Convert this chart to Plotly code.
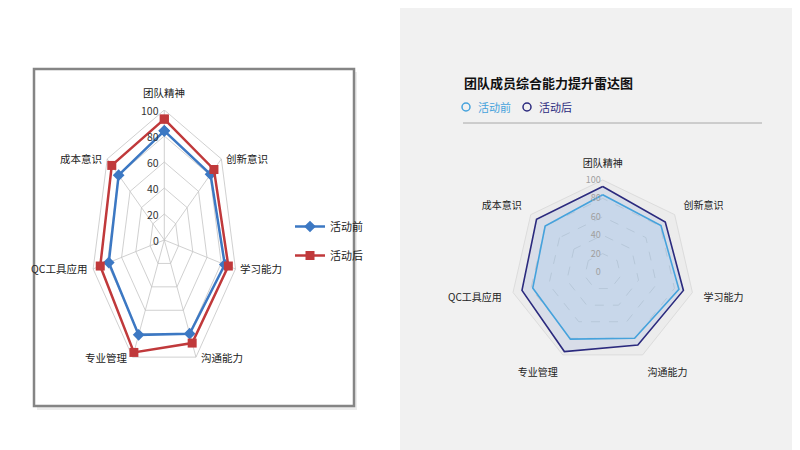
import math

import plotly.graph_objects as go

# data
categories = ["团队精神", "创新意识", "学习能力", "沟通能力", "专业管理", "QC工具应用", "成本意识"]
before = [84, 81, 85, 80, 81, 78, 80]
after = [93, 87, 90, 88, 96, 90, 92]
ticks = [0, 20, 40, 60, 80, 100]
series_names = ["活动前", "活动后"]

FONT = "Noto Sans CJK SC"
EXCEL_BLUE = "#3c78c3"
EXCEL_RED = "#c0393b"
NEW_BLUE = "#45a2dc"
NEW_NAVY = "#2b2a7e"

W, H = 800, 450
PAGE_OFF = 8  # the page puts the figure 8px in from the corner


def px(x):
    return (x - PAGE_OFF) / W


def py(y):
    return 1 - (y - PAGE_OFF) / H


n = len(categories)
angles = [2 * math.pi * i / n for i in range(n)]


def to_xy(values):
    # radar projection for the old excel chart (closed polygon)
    xs = [v * math.sin(a) for v, a in zip(values, angles)]
    ys = [v * math.cos(a) for v, a in zip(values, angles)]
    return xs + xs[:1], ys + ys[:1]


fig = go.Figure()

# ---- left: old excel radar, drawn on plain x/y axes (picture is stretched) ----
for t in ticks[1:]:
    gx, gy = to_xy([t] * n)
    fig.add_trace(go.Scatter(x=gx, y=gy, mode="lines", line=dict(color="#c4c4c4", width=0.8),
                             hoverinfo="skip", showlegend=False, xaxis="x", yaxis="y"))
for a in angles:
    fig.add_trace(go.Scatter(x=[0, ticks[-1] * math.sin(a)], y=[0, ticks[-1] * math.cos(a)], mode="lines",
                             line=dict(color="#c4c4c4", width=0.8), hoverinfo="skip", showlegend=False,
                             xaxis="x", yaxis="y"))

bx, by = to_xy(before)
ax_, ay_ = to_xy(after)
fig.add_trace(go.Scatter(x=bx, y=by, name=series_names[0], mode="lines+markers", legend="legend",
                         legendgroup="b", line=dict(color=EXCEL_BLUE, width=2.5),
                         marker=dict(symbol="diamond", size=9, color=EXCEL_BLUE), cliponaxis=False))
fig.add_trace(go.Scatter(x=ax_, y=ay_, name=series_names[1], mode="lines+markers", legend="legend",
                         legendgroup="a", line=dict(color=EXCEL_RED, width=2.5),
                         marker=dict(symbol="square", size=9, color=EXCEL_RED), cliponaxis=False))

annotations = []
for t in ticks:
    annotations.append(dict(x=0, y=t, xref="x", yref="y", text=str(t), showarrow=False, xanchor="right",
                            xshift=-3, font=dict(family=FONT, size=10.5, color="#333")))
for cat, a in zip(categories, angles):
    s, c = math.sin(a), math.cos(a)
    if abs(s) < 0.2:
        xa, ya, ys_ = "center", "bottom", 8
    else:
        xa, ya, ys_ = ("left" if s > 0 else "right"), "middle", 0
    annotations.append(dict(x=100 * s, y=100 * c, xref="x", yref="y", text=cat, showarrow=False,
                            xanchor=xa, yanchor=ya, xshift=3 if s > 0.2 else (-3 if s < -0.2 else 0),
                            yshift=ys_, font=dict(family=FONT, size=10.5, color="#222")))

# ---- right: redesigned radar ----
rcat = categories + categories[:1]
fig.add_trace(go.Scatterpolar(r=after + after[:1], theta=rcat, subplot="polar", mode="lines", fill="toself",
                              fillcolor="rgba(180,195,225,0.35)", line=dict(color=NEW_NAVY, width=1.6),
                              showlegend=False, name=series_names[1]))
fig.add_trace(go.Scatterpolar(r=before + before[:1], theta=rcat, subplot="polar", mode="lines", fill="toself",
                              fillcolor="rgba(150,200,240,0.25)", line=dict(color=NEW_BLUE, width=1.6),
                              showlegend=False, name=series_names[0]))

annotations.append(dict(x=px(462), y=py(83), xref="paper", yref="paper", xanchor="left",
                        yanchor="middle", showarrow=False, text="<b>团队成员综合能力提升雷达图</b>",
                        font=dict(family=FONT, size=13, color="#111")))
legend_items = [(series_names[0], NEW_BLUE, 466), (series_names[1], NEW_NAVY, 527)]
shapes = [
    dict(type="rect", xref="paper", yref="paper", x0=px(400), x1=1, y0=0, y1=1, fillcolor="#f1f1f1",
         line=dict(width=0), layer="below"),
    dict(type="rect", xref="paper", yref="paper", x0=px(37), x1=px(357), y0=py(410), y1=py(72),
         fillcolor="#ececec", line=dict(width=0), layer="below"),
    dict(type="rect", xref="paper", yref="paper", x0=px(34), x1=px(354), y0=py(406), y1=py(69),
         fillcolor="white", line=dict(color="#858585", width=2.5), layer="below"),
    dict(type="line", xref="paper", yref="paper", x0=px(463), x1=px(762), y0=py(123), y1=py(123),
         line=dict(color="#a8a8a8", width=1)),
]
for name, col, lx in legend_items:
    shapes.append(dict(type="circle", xref="paper", yref="paper", x0=px(lx - 4), x1=px(lx + 4),
                       y0=py(111), y1=py(103), line=dict(color=col, width=1.5)))
    annotations.append(dict(x=px(lx + 10), y=py(107), xref="paper", yref="paper", xanchor="left",
                            yanchor="middle", showarrow=False, text=name,
                            font=dict(family=FONT, size=11, color=col)))

cx_l, cy_l, rx_l, ry_l = 164.3, 240, 73, 130
cx_r, cy_r, r_r = 602.7, 272, 92

fig.update_layout(
    width=W, height=H, margin=dict(l=0, r=0, t=0, b=0),
    paper_bgcolor="white", plot_bgcolor="rgba(0,0,0,0)",
    font=dict(family=FONT),
    xaxis=dict(domain=[px(cx_l - rx_l), px(cx_l + rx_l)], range=[-100, 100], visible=False, fixedrange=True),
    yaxis=dict(domain=[py(cy_l + ry_l), py(cy_l - ry_l)], range=[-100, 100], visible=False, fixedrange=True),
    legend=dict(x=px(290), y=py(212), xanchor="left", yanchor="top", bgcolor="rgba(0,0,0,0)",
                font=dict(family=FONT, size=11, color="#222"), tracegroupgap=10, itemwidth=30),
    polar=dict(
        domain=dict(x=[px(cx_r - r_r), px(cx_r + r_r)], y=[py(cy_r + r_r), py(cy_r - r_r)]),
        gridshape="linear", bgcolor="#ececec",
        radialaxis=dict(range=[0, 100], tickvals=ticks, angle=90, tickangle=90, side="counterclockwise",
                        showline=False, gridcolor="#c9c9c9", griddash="dash", gridwidth=0.8, ticks="",
                        tickfont=dict(family=FONT, size=9, color="#a0a0a0")),
        angularaxis=dict(direction="clockwise", rotation=90, showgrid=False, showline=True,
                         linecolor="#dcdcdc", linewidth=1, ticks="outside", ticklen=9,
                         tickcolor="rgba(0,0,0,0)", tickfont=dict(family=FONT, size=10, color="#222")),
    ),
    shapes=shapes,
    annotations=annotations,
)

fig.write_html("out.html")
